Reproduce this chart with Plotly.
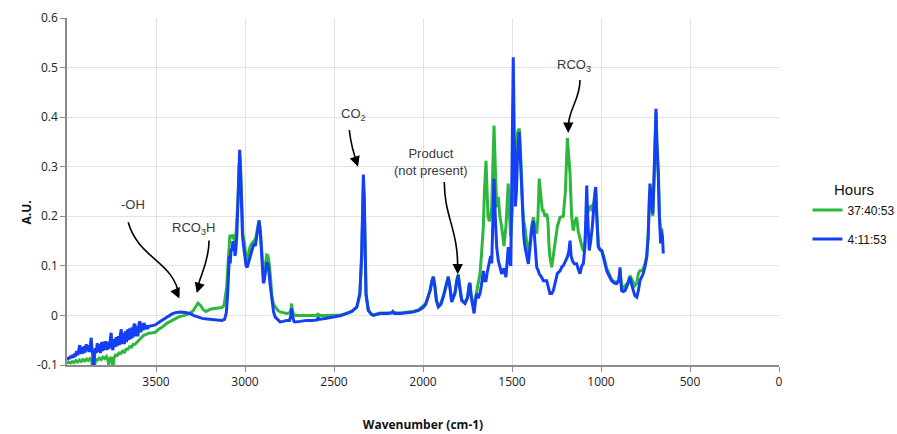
import plotly.graph_objects as go

# ---- data ----
wn_blue = [4000, 3994, 3988, 3982, 3976, 3970, 3964, 3958, 3952, 3946, 3940, 3934, 3928, 3922, 3916, 3910, 3904, 3898, 3892, 3886,
           3880, 3874, 3868, 3864, 3860, 3855, 3851, 3847, 3842, 3836, 3830, 3824, 3818, 3812, 3806, 3800, 3794, 3788, 3782, 3776,
           3770, 3764, 3758, 3752, 3747, 3742, 3736, 3730, 3724, 3718, 3712, 3706, 3700, 3695, 3690, 3684, 3678, 3672, 3666, 3660,
           3654, 3648, 3642, 3636, 3630, 3624, 3619, 3614, 3608, 3602, 3596, 3590, 3585, 3579, 3573, 3567, 3561, 3555, 3548, 3540,
           3525, 3504, 3485, 3466, 3440, 3410, 3385, 3360, 3335, 3310, 3290, 3264, 3240,
           3213, 3190, 3160, 3130, 3115, 3105, 3098, 3093, 3088, 3083, 3078, 3073, 3068, 3064, 3060, 3056, 3052, 3046, 3040, 3034,
           3030, 3026, 3020, 3014, 3008, 3000, 2994, 2988, 2982, 2975, 2968, 2960, 2950, 2942, 2935, 2928, 2921, 2914, 2908, 2902,
           2897, 2892, 2885, 2878, 2872, 2866, 2858, 2850, 2840, 2831, 2815, 2803, 2785, 2766, 2750, 2742, 2738, 2734, 2725, 2719,
           2690, 2653, 2620, 2595, 2590, 2585, 2550, 2506, 2460, 2429, 2400, 2372, 2355, 2345, 2338, 2335, 2330, 2325, 2320, 2307,
           2290, 2279, 2242, 2200, 2175, 2169, 2160, 2129, 2090, 2056, 2025, 2000, 1985, 1972, 1960, 1950, 1942, 1934, 1925, 1914,
           1900, 1886, 1870, 1858, 1850, 1839, 1830, 1820, 1810, 1802, 1795, 1783, 1764, 1750, 1740, 1736, 1730, 1722, 1713, 1705,
           1698, 1690, 1680, 1672, 1665, 1661, 1655, 1646, 1640, 1632, 1628, 1620, 1614, 1608, 1601, 1594, 1586, 1577, 1568, 1558,
           1550, 1545, 1534, 1527, 1521, 1514, 1507, 1500, 1493, 1487, 1481, 1475, 1468, 1459, 1452, 1446, 1440, 1434, 1427, 1418,
           1408, 1398, 1390, 1380, 1372, 1361, 1352, 1347, 1335, 1324, 1310, 1305, 1296, 1287, 1277, 1268, 1258, 1245, 1230, 1220,
           1212, 1200, 1189, 1180, 1174, 1168, 1160, 1150, 1137, 1125, 1118, 1108, 1099, 1090, 1084, 1080, 1075, 1070, 1066, 1058,
           1049, 1040, 1035, 1030, 1024, 1015, 1005, 996, 985, 968, 955, 940, 925, 912, 900, 895, 893, 889, 884, 875,
           865, 855, 845, 837, 830, 818, 810, 799, 790, 781, 770, 762, 752, 743, 735, 728, 725, 718, 712, 709,
           702, 696, 691, 686, 678, 672, 665, 660, 655, 650]
au_blue = [-0.090, -0.085, -0.088, -0.082, -0.086, -0.080, -0.085, -0.077, -0.083, -0.072, -0.080, -0.066, -0.060, -0.078, -0.064, -0.077, -0.062, -0.075, -0.058, -0.072,
           -0.060, -0.074, -0.052, -0.045, -0.068, -0.080, -0.110, -0.082, -0.066, -0.076, -0.056, -0.074, -0.058, -0.076, -0.054, -0.072, -0.053, -0.070, -0.052, -0.070,
           -0.054, -0.068, -0.046, -0.035, -0.062, -0.070, -0.048, -0.064, -0.044, -0.062, -0.042, -0.060, -0.038, -0.028, -0.058, -0.036, -0.058, -0.032, -0.054, -0.028,
           -0.050, -0.026, -0.048, -0.024, -0.045, -0.020, -0.017, -0.042, -0.022, -0.042, -0.018, -0.012, -0.034, -0.016, -0.030, -0.015, -0.028, -0.020, -0.027, -0.022,
           -0.021, -0.019, -0.014, -0.010, -0.004, 0.003, 0.006, 0.007, 0.006, 0.004, 0.000, -0.003, -0.006,
           -0.007, -0.008, -0.010, -0.010, -0.008, 0.005, 0.040, 0.100, 0.120, 0.105, 0.135, 0.130, 0.150, 0.135, 0.145, 0.120, 0.130, 0.160, 0.220, 0.300,
           0.334, 0.300, 0.200, 0.160, 0.140, 0.120, 0.100, 0.097, 0.105, 0.115, 0.120, 0.130, 0.145, 0.140, 0.155, 0.175, 0.191, 0.170, 0.130, 0.090,
           0.065, 0.070, 0.090, 0.105, 0.104, 0.090, 0.060, 0.030, 0.008, -0.003, -0.010, -0.013, -0.012, -0.010, -0.010, 0.000, 0.014, 0.000, -0.012, -0.013,
           -0.012, -0.010, -0.010, -0.009, -0.004, -0.008, -0.006, -0.003, 0.000, 0.004, 0.008, 0.017, 0.044, 0.120, 0.250, 0.284, 0.240, 0.120, 0.044, 0.010,
           0.002, 0.000, 0.004, 0.004, 0.005, 0.008, 0.004, 0.004, 0.005, 0.007, 0.010, 0.016, 0.022, 0.035, 0.050, 0.068, 0.077, 0.060, 0.030, 0.017,
           0.022, 0.037, 0.060, 0.077, 0.060, 0.027, 0.035, 0.045, 0.070, 0.081, 0.060, 0.030, 0.024, 0.035, 0.062, 0.064, 0.040, 0.025, 0.004, 0.030,
           0.044, 0.035, 0.044, 0.060, 0.075, 0.090, 0.070, 0.070, 0.085, 0.100, 0.110, 0.120, 0.105, 0.200, 0.276, 0.200, 0.138, 0.111, 0.100, 0.084,
           0.090, 0.095, 0.077, 0.110, 0.138, 0.110, 0.100, 0.300, 0.521, 0.350, 0.220, 0.250, 0.330, 0.370, 0.300, 0.266, 0.200, 0.160, 0.138, 0.120,
           0.104, 0.140, 0.170, 0.191, 0.150, 0.097, 0.090, 0.084, 0.078, 0.070, 0.070, 0.070, 0.057, 0.044, 0.044, 0.050, 0.065, 0.085, 0.090, 0.098,
           0.100, 0.108, 0.118, 0.130, 0.151, 0.120, 0.110, 0.104, 0.104, 0.090, 0.084, 0.100, 0.105, 0.140, 0.200, 0.262, 0.200, 0.140, 0.131, 0.150,
           0.178, 0.220, 0.245, 0.259, 0.200, 0.138, 0.132, 0.131, 0.115, 0.090, 0.080, 0.070, 0.065, 0.064, 0.070, 0.090, 0.097, 0.070, 0.050, 0.048,
           0.050, 0.058, 0.070, 0.077, 0.065, 0.050, 0.040, 0.037, 0.050, 0.070, 0.080, 0.085, 0.100, 0.118, 0.160, 0.250, 0.266, 0.240, 0.220, 0.205,
           0.280, 0.380, 0.417, 0.350, 0.286, 0.200, 0.145, 0.170, 0.160, 0.125]

wn_green = [4000, 3990, 3980, 3970, 3960, 3950, 3940, 3930, 3920, 3910, 3900, 3890, 3880, 3870, 3862, 3856, 3852, 3849, 3845, 3838,
            3828, 3818, 3808, 3798, 3788, 3778, 3770, 3766, 3760, 3752, 3746, 3741, 3736, 3728, 3718, 3708, 3698, 3688, 3678, 3668,
            3658, 3648, 3638, 3628, 3618, 3607, 3598, 3588, 3578, 3569, 3555, 3541,
            3520, 3504, 3485, 3466, 3440, 3410, 3385, 3372, 3340, 3310, 3290, 3275, 3264, 3250, 3235, 3220, 3205, 3190, 3170, 3150,
            3130, 3118, 3108, 3103, 3096, 3090, 3085, 3078, 3072, 3066, 3060, 3054, 3048, 3040, 3033, 3029, 3024, 3018, 3012, 3005,
            2998, 2990, 2982, 2972, 2962, 2950, 2940, 2930, 2921, 2914, 2908, 2902, 2897, 2890, 2884, 2878, 2872, 2864, 2856, 2850,
            2840, 2831, 2815, 2803, 2785, 2766, 2750, 2742, 2738, 2734, 2725, 2719, 2690, 2653, 2620, 2595, 2590, 2585, 2550, 2506,
            2460, 2429, 2400, 2372, 2355, 2345, 2338, 2335, 2330, 2325, 2320, 2307, 2290, 2279, 2242, 2200, 2169, 2129, 2090, 2056,
            2025, 2000, 1985, 1972, 1960, 1950, 1942, 1934, 1925, 1914, 1900, 1886, 1870, 1858, 1850, 1839, 1830, 1820, 1810, 1802,
            1795, 1783, 1764, 1750, 1740, 1736, 1730, 1722, 1713, 1705, 1698, 1690, 1680, 1672, 1665, 1661, 1655, 1650, 1646, 1641,
            1635, 1628, 1620, 1614, 1608, 1601, 1594, 1586, 1577, 1568, 1558, 1550, 1545, 1534, 1527, 1521, 1514, 1507, 1500, 1493,
            1485, 1478, 1468, 1459, 1452, 1446, 1440, 1434, 1427, 1418, 1408, 1398, 1390, 1380, 1372, 1361, 1354, 1347, 1340, 1330,
            1324, 1315, 1305, 1298, 1292, 1287, 1277, 1268, 1258, 1245, 1230, 1220, 1212, 1200, 1194, 1189, 1183, 1174, 1165, 1156,
            1146, 1137, 1128, 1118, 1108, 1099, 1090, 1080, 1066, 1058, 1049, 1040, 1030, 1024, 1015, 1005, 996, 985, 968, 955,
            940, 925, 912, 900, 893, 884, 875, 865, 850, 837, 825, 810, 799, 790, 781, 770, 762, 752, 743, 735,
            728, 725, 718, 712, 709, 702, 696, 691, 686, 678, 672, 665, 660, 655, 650]
au_green = [-0.097, -0.094, -0.096, -0.093, -0.095, -0.091, -0.094, -0.090, -0.093, -0.089, -0.092, -0.088, -0.091, -0.087, -0.090, -0.105, -0.118, -0.127, -0.100, -0.089,
            -0.090, -0.086, -0.089, -0.084, -0.087, -0.083, -0.090, -0.100, -0.088, -0.084, -0.096, -0.104, -0.086, -0.080, -0.081, -0.076, -0.077, -0.072, -0.074, -0.068,
            -0.068, -0.063, -0.064, -0.058, -0.058, -0.054, -0.050, -0.046, -0.043, -0.040, -0.038, -0.036,
            -0.035, -0.034, -0.028, -0.024, -0.016, -0.010, -0.006, -0.003, 0.000, 0.004, 0.010, 0.020, 0.025, 0.020, 0.012, 0.008, 0.010, 0.013, 0.014, 0.015,
            0.016, 0.020, 0.040, 0.057, 0.100, 0.130, 0.160, 0.160, 0.158, 0.163, 0.155, 0.140, 0.170, 0.230, 0.300, 0.320, 0.290, 0.200, 0.165, 0.150,
            0.130, 0.110, 0.120, 0.138, 0.145, 0.150, 0.155, 0.175, 0.192, 0.170, 0.140, 0.100, 0.086, 0.090, 0.110, 0.122, 0.121, 0.105, 0.075, 0.040,
            0.022, 0.017, 0.010, 0.007, 0.005, 0.004, 0.005, 0.012, 0.024, 0.010, 0.002, 0.000, 0.000, 0.000, 0.000, 0.000, 0.004, 0.000, 0.000, 0.000,
            0.001, 0.004, 0.008, 0.016, 0.040, 0.110, 0.230, 0.260, 0.220, 0.110, 0.040, 0.010, 0.003, 0.001, 0.005, 0.005, 0.006, 0.005, 0.006, 0.008,
            0.011, 0.018, 0.024, 0.037, 0.052, 0.070, 0.079, 0.062, 0.032, 0.019, 0.024, 0.039, 0.062, 0.079, 0.062, 0.029, 0.037, 0.047, 0.072, 0.083,
            0.062, 0.032, 0.026, 0.037, 0.063, 0.066, 0.042, 0.027, 0.010, 0.035, 0.050, 0.060, 0.084, 0.120, 0.160, 0.178, 0.250, 0.300, 0.312, 0.260,
            0.200, 0.190, 0.200, 0.218, 0.300, 0.383, 0.300, 0.218, 0.239, 0.200, 0.178, 0.150, 0.140, 0.180, 0.240, 0.266, 0.200, 0.160, 0.200, 0.250,
            0.300, 0.340, 0.370, 0.377, 0.330, 0.266, 0.220, 0.190, 0.178, 0.150, 0.124, 0.150, 0.180, 0.198, 0.180, 0.165, 0.200, 0.276, 0.250, 0.212,
            0.212, 0.200, 0.205, 0.190, 0.140, 0.118, 0.097, 0.120, 0.151, 0.180, 0.198, 0.200, 0.200, 0.250, 0.330, 0.358, 0.330, 0.286, 0.200, 0.171,
            0.190, 0.198, 0.170, 0.151, 0.140, 0.130, 0.150, 0.200, 0.218, 0.220, 0.210, 0.230, 0.259, 0.210, 0.140, 0.133, 0.131, 0.120, 0.095, 0.085,
            0.072, 0.068, 0.066, 0.072, 0.090, 0.060, 0.055, 0.060, 0.065, 0.080, 0.070, 0.060, 0.065, 0.085, 0.090, 0.090, 0.095, 0.105, 0.120, 0.160,
            0.240, 0.250, 0.230, 0.215, 0.200, 0.270, 0.370, 0.410, 0.340, 0.280, 0.200, 0.170, 0.175, 0.170, 0.170]

series_names = ["37:40:53", "4:11:53"]
series_colors = ["#2DB83D", "#1440F5"]
x_ticks = [3500, 3000, 2500, 2000, 1500, 1000, 500, 0]
y_ticks = [-0.1, 0, 0.1, 0.2, 0.3, 0.4, 0.5, 0.6]
y_tick_text = ["-0.1", "0", "0.1", "0.2", "0.3", "0.4", "0.5", "0.6"]

fig = go.Figure()
fig.add_trace(go.Scatter(x=wn_green, y=au_green, mode="lines", name=series_names[0],
                         legendgroup="g1", line=dict(color=series_colors[0], width=3)))
fig.add_trace(go.Scatter(x=wn_blue, y=au_blue, mode="lines", name=series_names[1],
                         legendgroup="g2", line=dict(color=series_colors[1], width=3)))

ann_font = dict(family="Liberation Sans, Arial, sans-serif", size=13, color="#3a3a3a")
labels = [
    (3629, 0.224, "-OH"),
    (3292, 0.175, "RCO<sub>3</sub>H"),
    (2393, 0.405, "CO<sub>2</sub>"),
    (1955, 0.31, "Product<br>(not present)"),
    (1152, 0.504, "RCO<sub>3</sub>"),
]
for x, y, t in labels:
    fig.add_annotation(x=x, y=y, text=t, showarrow=False, font=ann_font)

curves = [
    "M 3656,0.188 C 3601,0.115 3393,0.107 3372,0.040",
    "M 3202,0.151 C 3202,0.107 3253,0.081 3268,0.053",
    "M 2414,0.374 C 2404,0.343 2387,0.323 2369,0.307",
    "M 1880,0.269 C 1882,0.200 1798,0.171 1806,0.090",
    "M 1118,0.475 C 1118,0.433 1186,0.417 1185,0.376",
]
for p in curves:
    fig.add_shape(type="path", path=p, xref="x", yref="y",
                  line=dict(color="black", width=1.6))

heads = [(3369, 0.034, -4, -9), (3271, 0.045, 3, -10), (2365, 0.300, -3, -9),
         (1805, 0.083, 0, -10), (1184, 0.368, 0, -10)]
for x, y, ax, ay in heads:
    fig.add_annotation(x=x, y=y, ax=ax, ay=ay, text="", showarrow=True,
                       arrowhead=2, arrowsize=1.3, arrowwidth=1.6, arrowcolor="black")

# y-axis title placed like the reference
fig.add_annotation(x=-0.073, y=0.438, xref="paper", yref="paper", text="<b>A.U.</b>",
                   textangle=-90, showarrow=False,
                   font=dict(family="Open Sans, sans-serif", size=12, color="#111"))

tick_font = dict(family="Open Sans, sans-serif", size=12, color="#222")
fig.update_xaxes(range=[4000, 0], tickvals=x_ticks, ticktext=[str(v) for v in x_ticks],
                 showgrid=True, gridcolor="#e3e3e3", gridwidth=1,
                 showline=True, linecolor="#8c8c8c", linewidth=1.5,
                 ticks="outside", ticklen=5, tickcolor="#8c8c8c", tickfont=tick_font,
                 zeroline=False, automargin=False,
                 title=dict(text="<b>Wavenumber (cm-1)</b>", standoff=31,
                            font=dict(family="Open Sans, sans-serif", size=12, color="#111")))
fig.update_yaxes(range=[-0.1, 0.6], tickvals=y_ticks, ticktext=y_tick_text,
                 showgrid=True, gridcolor="#e3e3e3", gridwidth=1,
                 showline=True, linecolor="#8c8c8c", linewidth=1.5,
                 ticks="outside", ticklen=5, tickcolor="#8c8c8c", tickfont=tick_font,
                 zeroline=False, automargin=False)

fig.update_layout(
    width=897, height=434,
    margin=dict(l=67, r=118, t=18, b=69, autoexpand=False),
    plot_bgcolor="white", paper_bgcolor="white",
    showlegend=True,
    legend=dict(x=1.04, y=0.545, xanchor="left", yanchor="top",
                title=dict(text="Hours", font=dict(family="Liberation Sans, Arial, sans-serif", size=15, color="#111"), side="top center"),
                font=dict(family="Liberation Sans, Arial, sans-serif", size=12, color="#111"),
                tracegroupgap=10, itemwidth=30, bgcolor="rgba(0,0,0,0)"),
)

fig.write_html("out.html", config={"displayModeBar": False},
               post_script="document.body.style.margin='0';document.body.style.padding='0';")
